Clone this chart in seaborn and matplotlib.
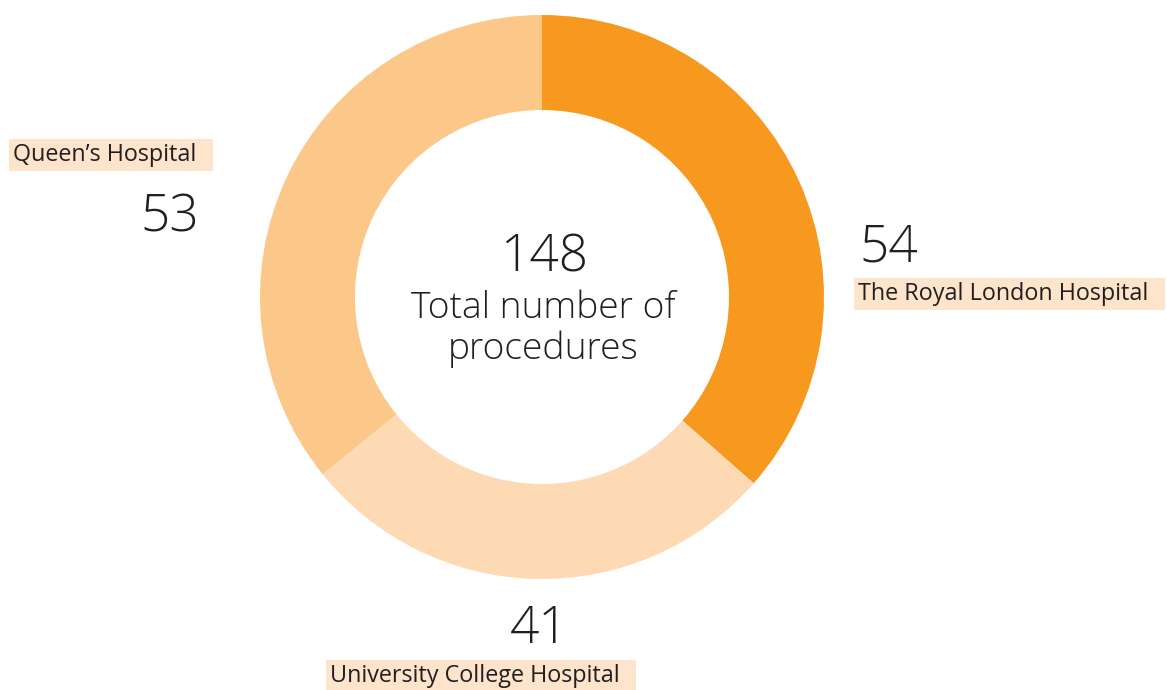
import matplotlib
matplotlib.use("Agg")
import matplotlib.pyplot as plt
import seaborn as sns

# Data
hospitals = ["The Royal London Hospital", "University College Hospital", "Queen's Hospital"]
procedures = [54, 41, 53]
center_lines = ["Total number of", "procedures"]

sns.set_theme(style="white")
plt.rcParams["font.family"] = ["Open Sans", "DejaVu Sans"]

colors = ["#F7991E", "#FDD9B4", "#FCC88A"]
text_color = "#231F20"
label_bg = "#FDE4CB"

W, H = 1167, 690
fig = plt.figure(figsize=(W / 100, H / 100), dpi=100)
ax = fig.add_axes([0, 0, 1, 1])

cx, cy = 542, H - 297
R = 282
ax.pie(procedures, colors=colors, startangle=90, counterclock=False,
       center=(cx, cy), radius=R, frame=True,
       wedgeprops=dict(width=R - 187, linewidth=0))
ax.set_xlim(0, W)
ax.set_ylim(0, H)
ax.set_aspect("equal")
ax.axis("off")

total = sum(procedures)
ax.text(544, H - 272, f"{total}", ha="center", va="baseline", fontsize=37,
        color=text_color, fontweight="light")
ax.text(543, H - 318, center_lines[0], ha="center", va="baseline", fontsize=26.8,
        color=text_color, fontweight="light")
ax.text(543, H - 359, center_lines[1], ha="center", va="baseline", fontsize=26.8,
        color=text_color, fontweight="light")

# value labels and name labels
num_pos = [(889, H - 262), (539, H - 643), (170, H - 232)]
name_pos = [(858, H - 300), (330, H - 682), (13, H - 161)]
for name, val, (nx, ny), (lx, ly) in zip(hospitals, procedures, num_pos, name_pos):
    ax.text(nx, ny, f"{val}", ha="center", va="baseline", fontsize=37,
            color=text_color, fontweight="light")
    ax.text(lx, ly, name.replace("'", "\u2019") + "  ", ha="left", va="baseline",
            fontsize=16.8, color=text_color,
            bbox=dict(boxstyle="square,pad=0.18", facecolor=label_bg, edgecolor="none"))

fig.savefig("out.png", dpi=100)
